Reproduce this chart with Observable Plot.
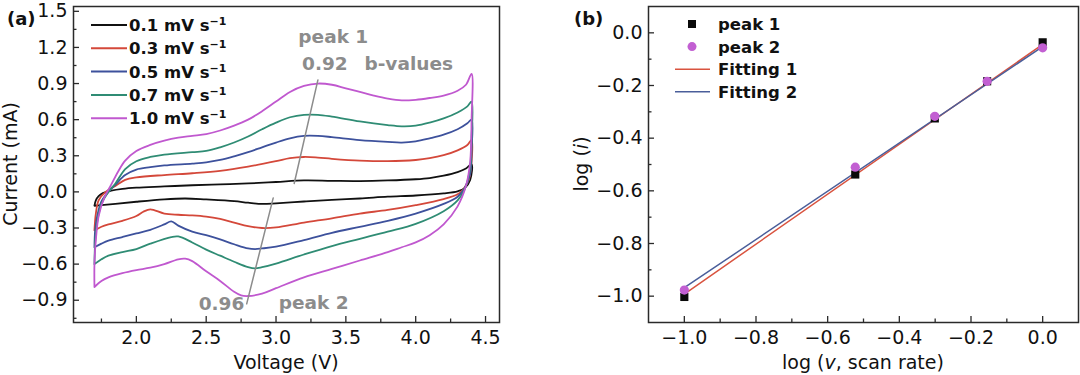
<!DOCTYPE html>
<html>
<head>
<meta charset="utf-8">
<script src="https://cdn.jsdelivr.net/npm/d3@7"></script>
<script src="https://cdn.jsdelivr.net/npm/@observablehq/plot@0.6"></script>
<style>
  body { margin: 0; background: #fff; }
  #wrap { display: flex; width: 1080px; height: 375px; }
  #wrap svg { flex: 0 0 auto; }
</style>
</head>
<body>
<div id="wrap"></div>
<script>
const FONT = "'DejaVu Sans', 'Liberation Sans', Arial, sans-serif";

// ---------------- Panel (a) data ----------------
const voltageTicks = [2.0, 2.5, 3.0, 3.5, 4.0, 4.5];
const voltageMinor = [1.75, 2.25, 2.75, 3.25, 3.75, 4.25];
const currentTicks = [-0.9, -0.6, -0.3, 0, 0.3, 0.6, 0.9, 1.2, 1.5];
const currentMinor = [-1.05, -0.75, -0.45, -0.15, 0.15, 0.45, 0.75, 1.05, 1.35];
const scanRates = ["0.1", "0.3", "0.5", "0.7", "1.0"];
const seriesColors = ["#111111", "#d4483a", "#3d519c", "#2f8c74", "#c058cf"];

const cv01 = [[1.70,-0.115],[1.71,-0.07],[1.73,-0.035],[1.76,-0.01],[1.82,0.01],[1.9,0.025],[2.0,0.035],[2.2,0.045],[2.4,0.055],[2.6,0.062],[2.8,0.07],[3.0,0.082],[3.2,0.095],[3.4,0.092],[3.6,0.09],[3.8,0.095],[4.0,0.105],[4.1,0.115],[4.2,0.135],[4.3,0.165],[4.36,0.195],[4.4,0.23],[4.39,0.1],[4.35,0.03],[4.3,0.005],[4.2,-0.012],[4.0,-0.03],[3.8,-0.04],[3.6,-0.055],[3.4,-0.066],[3.2,-0.08],[3.0,-0.095],[2.9,-0.1],[2.8,-0.09],[2.7,-0.077],[2.5,-0.063],[2.35,-0.055],[2.2,-0.062],[2.0,-0.082],[1.85,-0.1],[1.75,-0.11],[1.70,-0.115]];
const cv03 = [[1.70,-0.32],[1.71,-0.18],[1.73,-0.07],[1.78,0.0],[1.85,0.05],[1.92,0.1],[2.0,0.12],[2.2,0.14],[2.4,0.155],[2.6,0.175],[2.8,0.21],[3.0,0.255],[3.1,0.28],[3.2,0.29],[3.3,0.285],[3.4,0.275],[3.6,0.26],[3.8,0.255],[4.0,0.265],[4.1,0.28],[4.2,0.305],[4.3,0.345],[4.37,0.39],[4.4,0.43],[4.4,0.25],[4.38,0.1],[4.34,0.02],[4.3,-0.02],[4.2,-0.06],[4.0,-0.11],[3.8,-0.15],[3.6,-0.18],[3.4,-0.22],[3.2,-0.255],[3.0,-0.295],[2.9,-0.3],[2.8,-0.285],[2.7,-0.255],[2.6,-0.225],[2.5,-0.205],[2.4,-0.195],[2.3,-0.19],[2.2,-0.18],[2.1,-0.145],[2.05,-0.165],[2.0,-0.2],[1.9,-0.24],[1.8,-0.27],[1.75,-0.29],[1.70,-0.32]];
const cv05 = [[1.70,-0.46],[1.705,-0.32],[1.72,-0.2],[1.75,-0.08],[1.8,0.0],[1.85,0.06],[1.92,0.14],[2.0,0.185],[2.1,0.205],[2.2,0.22],[2.4,0.235],[2.5,0.245],[2.6,0.265],[2.7,0.295],[2.8,0.33],[2.9,0.37],[3.0,0.41],[3.1,0.445],[3.2,0.465],[3.3,0.465],[3.4,0.455],[3.6,0.43],[3.8,0.415],[3.9,0.41],[4.0,0.42],[4.1,0.445],[4.2,0.475],[4.3,0.52],[4.37,0.57],[4.4,0.6],[4.4,0.35],[4.39,0.15],[4.35,0.03],[4.3,-0.04],[4.2,-0.1],[4.0,-0.18],[3.8,-0.24],[3.6,-0.29],[3.4,-0.34],[3.2,-0.4],[3.0,-0.455],[2.9,-0.47],[2.85,-0.475],[2.8,-0.47],[2.7,-0.435],[2.6,-0.395],[2.5,-0.36],[2.4,-0.33],[2.3,-0.28],[2.25,-0.245],[2.2,-0.27],[2.1,-0.315],[2.0,-0.345],[1.9,-0.375],[1.8,-0.405],[1.75,-0.43],[1.70,-0.46]];
const cv07 = [[1.70,-0.6],[1.705,-0.42],[1.72,-0.25],[1.75,-0.1],[1.8,0.0],[1.85,0.07],[1.92,0.19],[2.0,0.255],[2.1,0.29],[2.2,0.31],[2.4,0.33],[2.5,0.34],[2.6,0.37],[2.7,0.41],[2.8,0.46],[2.9,0.52],[3.0,0.575],[3.1,0.62],[3.2,0.64],[3.3,0.64],[3.4,0.625],[3.6,0.585],[3.8,0.555],[3.9,0.545],[4.0,0.55],[4.1,0.575],[4.2,0.61],[4.3,0.66],[4.37,0.71],[4.4,0.75],[4.4,0.45],[4.39,0.2],[4.35,0.02],[4.3,-0.07],[4.2,-0.16],[4.0,-0.265],[3.8,-0.33],[3.6,-0.39],[3.4,-0.45],[3.2,-0.52],[3.0,-0.595],[2.9,-0.625],[2.85,-0.635],[2.8,-0.625],[2.7,-0.58],[2.6,-0.53],[2.5,-0.48],[2.4,-0.42],[2.3,-0.37],[2.25,-0.375],[2.1,-0.43],[2.0,-0.475],[1.9,-0.5],[1.8,-0.53],[1.75,-0.56],[1.70,-0.6]];
const cv10 = [[1.70,-0.79],[1.70,-0.6],[1.71,-0.4],[1.73,-0.2],[1.77,-0.05],[1.82,0.06],[1.87,0.17],[1.92,0.26],[2.0,0.34],[2.1,0.39],[2.2,0.425],[2.3,0.45],[2.4,0.465],[2.5,0.48],[2.6,0.51],[2.7,0.55],[2.8,0.6],[2.9,0.67],[3.0,0.75],[3.1,0.83],[3.2,0.88],[3.3,0.9],[3.4,0.89],[3.5,0.86],[3.6,0.83],[3.7,0.8],[3.8,0.775],[3.9,0.76],[4.0,0.765],[4.1,0.78],[4.2,0.8],[4.3,0.84],[4.36,0.89],[4.4,0.98],[4.4,0.6],[4.39,0.25],[4.36,0.05],[4.3,-0.12],[4.2,-0.27],[4.1,-0.36],[4.0,-0.42],[3.9,-0.46],[3.8,-0.5],[3.6,-0.57],[3.4,-0.64],[3.2,-0.71],[3.0,-0.8],[2.9,-0.845],[2.8,-0.865],[2.75,-0.86],[2.7,-0.83],[2.6,-0.74],[2.5,-0.66],[2.4,-0.575],[2.35,-0.555],[2.3,-0.56],[2.2,-0.6],[2.1,-0.63],[2.0,-0.65],[1.9,-0.675],[1.8,-0.71],[1.75,-0.74],[1.70,-0.79]];
const cvSeries = [cv01, cv03, cv05, cv07, cv10];

const guidePeak1 = [[3.13, 0.07], [3.30, 0.93]];
const guidePeak2 = [[2.98, -0.05], [2.79, -0.93]];
const annotationTexts = ["peak 1", "0.92", "b-values", "0.96", "peak 2"];
const annotationV = [3.41, 3.35, 3.95, 2.61, 3.27];
const annotationI = [1.29, 1.065, 1.065, -0.93, -0.92];

// ---------------- Panel (b) data ----------------
const logRateTicks = [-1.0, -0.8, -0.6, -0.4, -0.2, 0.0];
const logRateMinor = [-0.9, -0.7, -0.5, -0.3, -0.1];
const logCurrentTicks = [-1.0, -0.8, -0.6, -0.4, -0.2, 0.0];
const logCurrentMinor = [-0.9, -0.7, -0.5, -0.3, -0.1];
const logV = [-1.0, -0.523, -0.301, -0.155, 0.0];
const peak1 = [-1.003, -0.538, -0.325, -0.184, -0.036];
const peak2 = [-0.977, -0.51, -0.317, -0.184, -0.057];
const fitX = [-1.0, 0.0];
const fit1 = [-0.992, -0.044];
const fit2 = [-0.968, -0.052];
const legendB = ["peak 1", "peak 2", "Fitting 1", "Fitting 2"];
const colorsB = {peak1: "#0a0a0a", peak2: "#c25fd2", fit1: "#d9533f", fit2: "#4a5e9a"};

// ---------------- helpers ----------------
const fmt = d3.format(".1f");
const GRAY = "#8c8c8c";
const AXIS = "#2a2a2a";

function labelMark(parts, {where, offset, rotate = false, size = 19}) {
  return (index, scales, values, dims) => {
    const fx0 = dims.marginLeft, fx1 = dims.width - dims.marginRight;
    const fy0 = dims.marginTop, fy1 = dims.height - dims.marginBottom;
    let x, y;
    if (where === "bottom") { x = (fx0 + fx1) / 2; y = fy1 + offset; }
    else { x = fx0 + offset; y = (fy0 + fy1) / 2; }
    const t = d3.create("svg:text")
      .attr("font-family", FONT).attr("font-size", size).attr("fill", "#111")
      .attr("text-anchor", "middle")
      .attr("transform", rotate ? `translate(${x},${y}) rotate(-90)` : `translate(${x},${y})`);
    parts.forEach(p => {
      const s = t.append("tspan").text(p.t);
      if (p.italic) s.attr("font-style", "italic");
    });
    return t.node();
  };
}

function panelTag(txt, dx, y) {
  return (index, scales, values, dims) => d3.create("svg:text")
    .attr("x", dims.marginLeft + dx).attr("y", y).attr("text-anchor", "start")
    .attr("font-family", FONT).attr("font-weight", "bold").attr("font-size", 18).attr("fill", "#111")
    .text(txt).node();
}

function legendA(index, scales, values, dims) {
  const g = d3.create("svg:g").attr("font-family", FONT).attr("font-weight", "bold")
    .attr("font-size", 16.5).attr("fill", "#111").attr("text-anchor", "start");
  scanRates.forEach((r, i) => {
    const y = dims.marginTop + 19 + i * 23.3;
    const x0 = dims.marginLeft;
    g.append("line").attr("x1", x0 + 18).attr("x2", x0 + 54).attr("y1", y).attr("y2", y)
      .attr("stroke", seriesColors[i]).attr("stroke-width", 2);
    const t = g.append("text").attr("x", x0 + 56).attr("y", y + 6);
    t.append("tspan").text(`${r} mV s`);
    t.append("tspan").attr("font-size", 11).attr("dy", -6).text("\u22121");
  });
  return g.node();
}

function legendB_(index, scales, values, dims) {
  const g = d3.create("svg:g").attr("font-family", FONT).attr("font-weight", "bold")
    .attr("font-size", 16.5).attr("fill", "#111").attr("text-anchor", "start");
  const x0 = dims.marginLeft;
  legendB.forEach((lab, i) => {
    const y = dims.marginTop + 18 + i * 22.6;
    if (i === 0) g.append("rect").attr("x", x0 + 44 - 4).attr("y", y - 4).attr("width", 8).attr("height", 8).attr("fill", colorsB.peak1);
    if (i === 1) g.append("circle").attr("cx", x0 + 44).attr("cy", y).attr("r", 4.5).attr("fill", colorsB.peak2);
    if (i === 2) g.append("line").attr("x1", x0 + 27).attr("x2", x0 + 62).attr("y1", y).attr("y2", y).attr("stroke", colorsB.fit1).attr("stroke-width", 1.5);
    if (i === 3) g.append("line").attr("x1", x0 + 27).attr("x2", x0 + 62).attr("y1", y).attr("y2", y).attr("stroke", colorsB.fit2).attr("stroke-width", 1.5);
    g.append("text").attr("x", x0 + 70).attr("y", y + 6).text(lab);
  });
  return g.node();
}

// ---------------- Panel (a) ----------------
const A = {w: 540, h: 375, ml: 73, mr: 41, mt: 6, mb: 53};
const aFrameW = A.w - A.ml - A.mr, aFrameH = A.h - A.mt - A.mb;
const cvRows = cvSeries.flatMap((arr, i) => arr.map(([v, c]) => ({rate: scanRates[i], v, c})));
const guideRows = [guidePeak1, guidePeak2].flatMap((g, i) => g.map(([v, c]) => ({g: i, v, c})));
const annRows = annotationTexts.map((t, i) => ({t, v: annotationV[i], c: annotationI[i]}));

const plotA = Plot.plot({
  width: A.w, height: A.h,
  marginLeft: A.ml, marginRight: A.mr, marginTop: A.mt, marginBottom: A.mb,
  style: {fontFamily: FONT, fontSize: "19px", color: "#111", background: "#fff", overflow: "visible"},
  x: {domain: [1.55, 4.6], ticks: voltageTicks, tickFormat: fmt, tickSize: 0, tickPadding: 8, label: null},
  y: {domain: [-1.085, 1.54], ticks: currentTicks, tickFormat: fmt, tickSize: 0, tickPadding: 6, label: null},
  color: {domain: scanRates, range: seriesColors},
  marks: [
    Plot.line(cvRows, {x: "v", y: "c", z: "rate", stroke: "rate", strokeWidth: 1.8, curve: "catmull-rom"}),
    Plot.line(guideRows, {x: "v", y: "c", z: "g", stroke: GRAY, strokeWidth: 1.5}),
    Plot.text(annRows, {x: "v", y: "c", text: "t", fill: GRAY, fontWeight: "bold", fontSize: 18.5}),
    Plot.tickX(voltageTicks, {x: d => d, insetTop: aFrameH - 6, stroke: AXIS, strokeWidth: 1.3}),
    Plot.tickX(voltageMinor, {x: d => d, insetTop: aFrameH - 3.5, stroke: AXIS, strokeWidth: 1.3}),
    Plot.tickY(currentTicks, {y: d => d, insetRight: aFrameW - 6, stroke: AXIS, strokeWidth: 1.3}),
    Plot.tickY(currentMinor, {y: d => d, insetRight: aFrameW - 3.5, stroke: AXIS, strokeWidth: 1.3}),
    Plot.frame({stroke: AXIS, strokeWidth: 1.5}),
    legendA,
    panelTag("(a)", -66, 25),
    labelMark([{t: "Current (mA)"}], {where: "left", offset: -56, rotate: true}),
    labelMark([{t: "Voltage (V)"}], {where: "bottom", offset: 47})
  ]
});

// ---------------- Panel (b) ----------------
const B = {w: 540, h: 375, ml: 108, mr: 2, mt: 6, mb: 53};
const bFrameW = B.w - B.ml - B.mr, bFrameH = B.h - B.mt - B.mb;
const p1Rows = logV.map((x, i) => ({x, y: peak1[i]}));
const p2Rows = logV.map((x, i) => ({x, y: peak2[i]}));
const fitRows = [fit1, fit2].flatMap((f, k) => fitX.map((x, i) => ({k: k === 0 ? "fit1" : "fit2", x, y: f[i]})));

const plotB = Plot.plot({
  width: B.w, height: B.h,
  marginLeft: B.ml, marginRight: B.mr, marginTop: B.mt, marginBottom: B.mb,
  style: {fontFamily: FONT, fontSize: "19px", color: "#111", background: "#fff", overflow: "visible"},
  x: {domain: [-1.1, 0.1], ticks: logRateTicks, tickFormat: fmt, tickSize: 0, tickPadding: 8, label: null},
  y: {domain: [-1.1, 0.1], ticks: logCurrentTicks, tickFormat: fmt, tickSize: 0, tickPadding: 6, label: null},
  color: {domain: ["fit1", "fit2"], range: [colorsB.fit1, colorsB.fit2]},
  marks: [
    Plot.line(fitRows, {x: "x", y: "y", z: "k", stroke: "k", strokeWidth: 1.5}),
    Plot.dot(p1Rows, {x: "x", y: "y", symbol: "square", r: 4.6, fill: colorsB.peak1}),
    Plot.dot(p2Rows, {x: "x", y: "y", r: 4.6, fill: colorsB.peak2}),
    Plot.tickX(logRateTicks, {x: d => d, insetTop: bFrameH - 6, stroke: AXIS, strokeWidth: 1.3}),
    Plot.tickX(logRateMinor, {x: d => d, insetTop: bFrameH - 3.5, stroke: AXIS, strokeWidth: 1.3}),
    Plot.tickY(logCurrentTicks, {y: d => d, insetRight: bFrameW - 6, stroke: AXIS, strokeWidth: 1.3}),
    Plot.tickY(logCurrentMinor, {y: d => d, insetRight: bFrameW - 3.5, stroke: AXIS, strokeWidth: 1.3}),
    Plot.frame({stroke: AXIS, strokeWidth: 1.5}),
    legendB_,
    panelTag("(b)", -74, 25),
    labelMark([{t: "log ("}, {t: "i", italic: true}, {t: ")"}], {where: "left", offset: -60, rotate: true}),
    labelMark([{t: "log ("}, {t: "v", italic: true}, {t: ", scan rate)"}], {where: "bottom", offset: 47})
  ]
});

document.getElementById("wrap").append(plotA, plotB);
</script>
</body>
</html>
